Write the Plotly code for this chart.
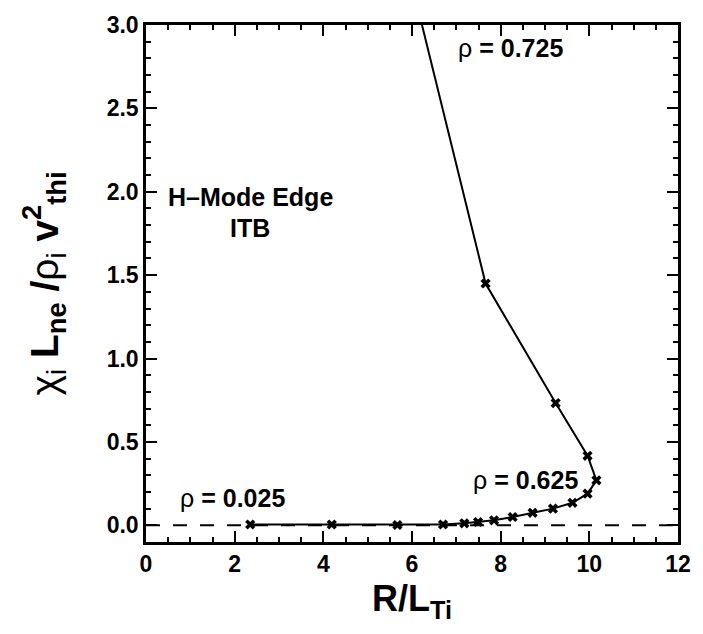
import plotly.graph_objects as go

# Normalized ion heat diffusivity versus R/L_Ti along the radial scan
r_over_lti = [2.35, 4.19, 5.67, 6.70, 7.18, 7.49, 7.85, 8.27, 8.72, 9.18, 9.62, 9.96, 10.16,
              9.96, 9.24, 7.66, 5.30]
chi_norm = [0.005, 0.005, 0.002, 0.005, 0.012, 0.02, 0.03, 0.05, 0.075, 0.10, 0.135, 0.19, 0.27,
            0.417, 0.733, 1.45, 4.0]

# Reference (zero) level
zero_x = [0, 12]
zero_y = [0, 0]

# Text labels (data coordinates)
labels = [
    ("ρ<b> = 0.725</b>", 8.22, 2.86),
    ("ρ<b> = 0.625</b>", 8.55, 0.27),
    ("ρ<b> = 0.025</b>", 1.95, 0.165),
    ("<b>H–Mode Edge</b>", 2.35, 1.97),
    ("<b>ITB</b>", 2.35, 1.78),
]

FONT = "Liberation Sans, Arial, sans-serif"

fig = go.Figure()
fig.add_trace(go.Scatter(x=zero_x, y=zero_y, mode="lines",
                         line=dict(color="black", width=2, dash="14px,13px"),
                         hoverinfo="skip", showlegend=False))
fig.add_trace(go.Scatter(x=r_over_lti, y=chi_norm, mode="lines+markers",
                         line=dict(color="black", width=2),
                         marker=dict(symbol="x", size=9, color="black"),
                         showlegend=False))

for txt, x, y in labels:
    fig.add_annotation(x=x, y=y, text=txt, showarrow=False,
                       font=dict(family=FONT, size=25, color="black"))

fig.add_annotation(xref="paper", yref="paper", x=0, y=0.5, xshift=-102,
                   xanchor="center", yanchor="middle",
                   textangle=-90, showarrow=False,
                   text="χ<sub>i</sub><b> L<sub>ne</sub> /</b>ρ<sub>i</sub><b> v<sup>2</sup><sub>thi</sub></b>",
                   font=dict(family=FONT, size=39, color="black"))

axis_common = dict(showline=True, linewidth=2.5, linecolor="black", mirror="ticks",
                   ticks="inside", ticklen=11, tickwidth=1.5, tickcolor="black",
                   showgrid=False, zeroline=False,
                   tickfont=dict(family=FONT, size=23, color="black", weight="bold"))

fig.update_xaxes(range=[0, 12], dtick=2, tickformat="d",
                 minor=dict(dtick=0.5, ticklen=5, tickwidth=1.5, ticks="inside", tickcolor="black"),
                 title=dict(text="<b>R/L<sub>Ti</sub></b>", font=dict(family=FONT, size=36, color="black"),
                            standoff=10),
                 **axis_common)
fig.update_yaxes(range=[-0.1, 3.0], dtick=0.5, tickformat=".1f",
                 minor=dict(dtick=0.1, ticklen=5, tickwidth=1.5, ticks="inside", tickcolor="black"),
                 **axis_common)

fig.update_layout(width=703, height=634, margin=dict(l=146, r=14, t=21, b=92),
                  plot_bgcolor="white", paper_bgcolor="white",
                  font=dict(family=FONT, color="black"))

fig.write_html("out.html")
